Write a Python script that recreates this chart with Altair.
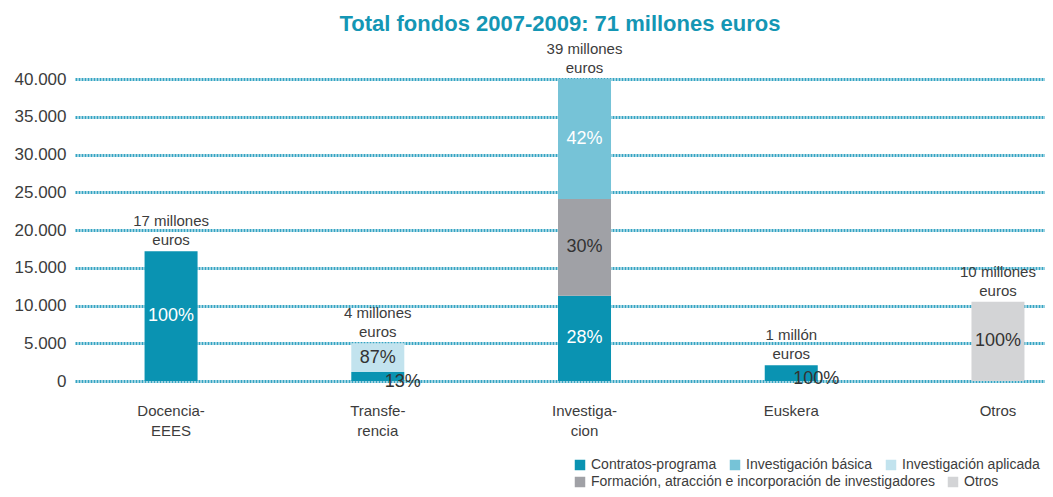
import altair as alt
import pandas as pd

FONT = "Liberation Sans"

title_text = "Total fondos 2007-2009: 71 millones euros"

categories = ["Docencia- EEES", "Transfe- rencia", "Investiga- cion", "Euskera", "Otros"]
total_labels = ["17 millones\neuros", "4 millones\neuros", "39 millones\neuros",
                "1 millón\neuros", "10 millones\neuros"]

series_row1 = ["Contratos-programa", "Investigación básica", "Investigación aplicada"]
colors_row1 = ["#0a93b2", "#76c3d7", "#c2e3ee"]
series_row2 = ["Formación, atracción e incorporación de investigadores", "Otros"]
colors_row2 = ["#a0a1a6", "#d3d4d6"]
stack_order = ["Contratos-programa", "Formación, atracción e incorporación de investigadores",
               "Investigación básica", "Investigación aplicada", "Otros"]

seg_category = ["Docencia- EEES", "Transfe- rencia", "Transfe- rencia",
                "Investiga- cion", "Investiga- cion", "Investiga- cion",
                "Euskera", "Otros"]
seg_series = ["Contratos-programa", "Contratos-programa", "Investigación aplicada",
              "Contratos-programa", "Formación, atracción e incorporación de investigadores",
              "Investigación básica", "Contratos-programa", "Otros"]
seg_value = [17200, 1200, 3800, 11300, 12800, 15900, 2100, 10500]
seg_pct = ["100%", "13%", "87%", "28%", "30%", "42%", "100%", "100%"]

y_ticks = [0, 5000, 10000, 15000, 20000, 25000, 30000, 35000, 40000]

df = pd.DataFrame({
    "category": seg_category,
    "series": seg_series,
    "value": seg_value,
    "pct": seg_pct,
    "order": [stack_order.index(s) for s in seg_series],
})

totals = df.groupby("category", sort=False)["value"].sum()
tdf = pd.DataFrame({
    "category": categories,
    "total": [totals[c] for c in categories],
    "label": total_labels,
})

x_scale = alt.Scale(domain=categories, paddingInner=0.545, paddingOuter=0.1186, align=1)
y_scale = alt.Scale(domain=[0, 40000], nice=False)

x_axis = alt.Axis(title=None, labelAngle=0, ticks=False, domain=False, grid=False,
                  labelFontSize=15, labelColor="#3c3c3c", labelPadding=22,
                  labelLineHeight=20, labelFont=FONT,
                  labelExpr="split(datum.label, ' ')")
y_axis = alt.Axis(title=None, values=y_ticks, ticks=False, domain=False,
                  grid=True, gridColor="#35a4c3", gridWidth=3, gridDash=[2, 1],
                  labelFontSize=17, labelColor="#3c3c3c", labelPadding=9,
                  minExtent=67, labelFont=FONT,
                  labelExpr="replace(format(datum.value, ','), ',', '.')")

X = alt.X("category:N", scale=x_scale, sort=categories, axis=x_axis)


def legend(y):
    return alt.Legend(title=None, orient="none", legendX=498, legendY=y,
                      direction="horizontal", symbolType="square", symbolSize=110,
                      symbolStrokeWidth=0, labelFontSize=14, labelColor="#3c3c3c",
                      labelFont=FONT, labelLimit=600, labelOffset=4, columnPadding=11,
                      padding=0)


base = alt.Chart(df).transform_stack(
    stack="value", groupby=["category"], as_=["y0", "y1"],
    sort=[alt.SortField("order", order="ascending")]
).transform_calculate(mid="(datum.y0 + datum.y1) / 2")

bars1 = base.transform_filter(alt.FieldOneOfPredicate(field="series", oneOf=series_row1)).mark_bar(size=53).encode(
    x=X,
    y=alt.Y("y0:Q", scale=y_scale, axis=y_axis),
    y2="y1:Q",
    color=alt.Color("series:N", scale=alt.Scale(domain=series_row1, range=colors_row1),
                    legend=legend(379)),
)

bars2 = base.transform_filter(alt.FieldOneOfPredicate(field="series", oneOf=series_row2)).mark_bar(size=53).encode(
    x=X,
    y=alt.Y("y0:Q", scale=y_scale, axis=y_axis),
    y2="y1:Q",
    color=alt.Color("series:N", scale=alt.Scale(domain=series_row2, range=colors_row2),
                    legend=legend(396)),
)

inside = base.transform_filter("datum.value >= 2500").mark_text(
    fontSize=18, font=FONT, baseline="middle", align="center"
).encode(
    x=X,
    y=alt.Y("mid:Q", scale=y_scale, axis=y_axis),
    text="pct:N",
    color=alt.condition(
        "datum.series == 'Contratos-programa' || datum.series == 'Investigación básica'",
        alt.value("white"), alt.value("#333333")),
)

offset = base.transform_filter("datum.value < 2500").mark_text(
    fontSize=18, font=FONT, baseline="middle", align="center", dx=25, dy=6, color="#333333"
).encode(
    x=X,
    y=alt.Y("mid:Q", scale=y_scale, axis=y_axis),
    text="pct:N",
)

tot = alt.Chart(tdf).mark_text(
    fontSize=15, font=FONT, baseline="bottom", align="center", dy=-22,
    lineBreak="\n", lineHeight=19, color="#3c3c3c"
).encode(
    x=X,
    y=alt.Y("total:Q", scale=y_scale, axis=y_axis),
    text="label:N",
)

chart = alt.layer(bars1, bars2, inside, offset, tot).resolve_scale(
    color="independent"
).properties(
    width=970, height=302,
    padding={"left": 0, "top": 5, "right": 0, "bottom": 0},
    title=alt.TitleParams(title_text, fontSize=22, font=FONT, fontWeight="bold",
                          color="#1496b4", anchor="middle", offset=6),
).configure_view(stroke=None)

chart.save("out.html", embed_options={"renderer": "svg", "actions": False})
